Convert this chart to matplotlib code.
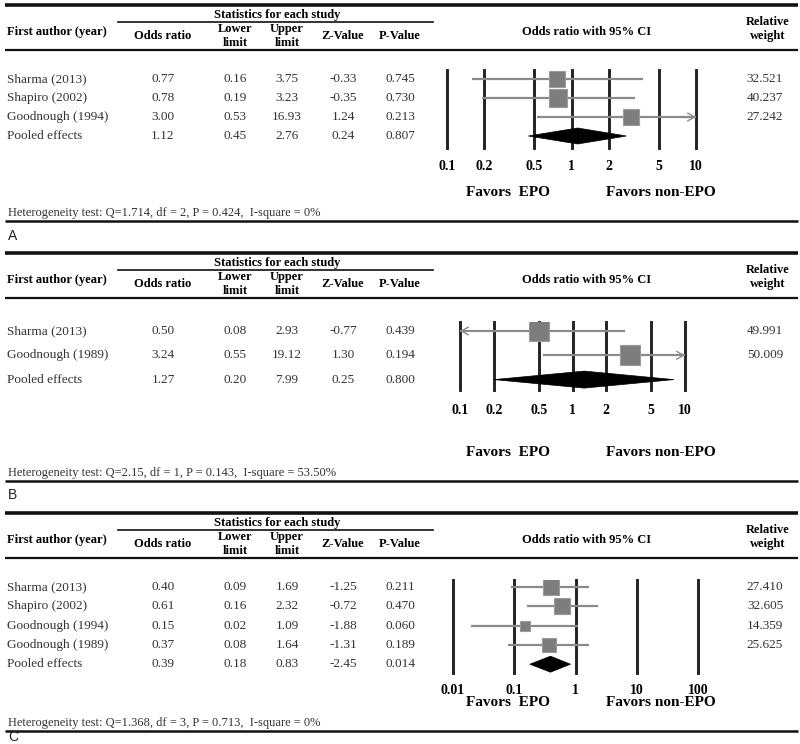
import matplotlib
matplotlib.use("Agg")
import matplotlib.pyplot as plt
from matplotlib.patches import Polygon
from matplotlib.ticker import NullLocator, NullFormatter
import numpy as np

# ------------------------------------------------------------------ data
A_authors = ["Sharma (2013)", "Shapiro (2002)", "Goodnough (1994)", "Pooled effects"]
A_or = [0.77, 0.78, 3.00, 1.12]
A_lo = [0.16, 0.19, 0.53, 0.45]
A_hi = [3.75, 3.23, 16.93, 2.76]
A_z = [-0.33, -0.35, 1.24, 0.24]
A_p = [0.745, 0.730, 0.213, 0.807]
A_w = [32.521, 40.237, 27.242]
A_het = "Heterogeneity test: Q=1.714, df = 2, P = 0.424,  I-square = 0%"

B_authors = ["Sharma (2013)", "Goodnough (1989)", "Pooled effects"]
B_or = [0.50, 3.24, 1.27]
B_lo = [0.08, 0.55, 0.20]
B_hi = [2.93, 19.12, 7.99]
B_z = [-0.77, 1.30, 0.25]
B_p = [0.439, 0.194, 0.800]
B_w = [49.991, 50.009]
B_het = "Heterogeneity test: Q=2.15, df = 1, P = 0.143,  I-square = 53.50%"

C_authors = ["Sharma (2013)", "Shapiro (2002)", "Goodnough (1994)",
             "Goodnough (1989)", "Pooled effects"]
C_or = [0.40, 0.61, 0.15, 0.37, 0.39]
C_lo = [0.09, 0.16, 0.02, 0.08, 0.18]
C_hi = [1.69, 2.32, 1.09, 1.64, 0.83]
C_z = [-1.25, -0.72, -1.88, -1.31, -2.45]
C_p = [0.211, 0.470, 0.060, 0.189, 0.014]
C_w = [27.410, 32.605, 14.359, 25.625]
C_het = "Heterogeneity test: Q=1.368, df = 3, P = 0.713,  I-square = 0%"

AB_ticks = [0.1, 0.2, 0.5, 1, 2, 5, 10]
AB_ticklabels = ["0.1", "0.2", "0.5", "1", "2", "5", "10"]
C_ticks = [0.01, 0.1, 1, 10, 100]
C_ticklabels = ["0.01", "0.1", "1", "10", "100"]

# ------------------------------------------------------------------ layout
W, H, DPI = 800, 744, 100
PT = DPI / 72.0
SERIF = ["Liberation Serif", "DejaVu Serif"]
SANS = ["Liberation Sans", "DejaVu Sans"]
LINE = "#111111"
TXT = "#333333"
CI_C = "#8a8a8a"
SQ_C = "#7d7d7d"

fig = plt.figure(figsize=(W / DPI, H / DPI), dpi=DPI)
ov = fig.add_axes([0, 0, 1, 1])
ov.set_xlim(0, W)
ov.set_ylim(H, 0)
ov.axis("off")

COL_X = [163, 235, 287, 343, 400]


def hline(y, x0=5, x1=798, lw=1.5):
    ov.plot([x0, x1], [y, y], color=LINE, lw=lw, solid_capstyle="butt")


def draw_panel(top, authors, ors, los, his, zs, ps, weights, het, letter,
               ticks, ticklabels, lay):
    # header
    hline(top, lw=2.6)
    ov.text(277, top + 10, "Statistics for each study", ha="center", va="center",
            fontsize=9, fontweight="bold", family=SERIF)
    ov.plot([118, 433], [top + 17] * 2, color=LINE, lw=1.2)
    ov.text(7, top + 27, "First author (year)", ha="left", va="center",
            fontsize=9, fontweight="bold", family=SERIF)
    heads = ["Odds ratio", "Lower\nlimit", "Upper\nlimit", "Z-Value", "P-Value"]
    for x, h in zip(COL_X, heads):
        ov.text(x, top + 31, h, ha="center", va="center", fontsize=9,
                fontweight="bold", family=SERIF, linespacing=1.25)
    ov.text(587, top + 27, "Odds ratio with 95% CI", ha="center", va="center",
            fontsize=9, fontweight="bold", family=SERIF)
    ov.text(768, top + 24, "Relative\nweight", ha="center", va="center",
            fontsize=9, fontweight="bold", family=SERIF, linespacing=1.3)
    hline(top + 45, lw=1.6)

    # table rows
    n = len(authors)
    for i in range(n):
        y = lay["row0"] + i * lay["dy"]
        ov.text(7, y, authors[i], ha="left", va="center", fontsize=9.5,
                family=SERIF, color=TXT)
        vals = [f"{ors[i]:.2f}", f"{los[i]:.2f}", f"{his[i]:.2f}",
                f"{zs[i]:.2f}", f"{ps[i]:.3f}"]
        for x, v in zip(COL_X, vals):
            ov.text(x, y, v, ha="center", va="center", fontsize=9.5,
                    family=SERIF, color=TXT)
        if i < len(weights):
            ov.text(765, y, f"{weights[i]:.3f}", ha="center", va="center",
                    fontsize=9.5, family=SERIF, color=TXT)

    # forest axes
    x0, x1 = lay["xpix"]
    vt, vb = lay["vtop"], lay["vbot"]
    ax = fig.add_axes([x0 / W, 1 - vb / H, (x1 - x0) / W, (vb - vt) / H])
    ax.set_facecolor("none")
    ax.set_xscale("log")
    xlo, xhi = ticks[0], ticks[-1]
    ax.set_xlim(xlo, xhi)
    r_top = (vt - lay["row0"]) / lay["dy"]
    r_bot = (vb - lay["row0"]) / lay["dy"]
    ax.set_ylim(r_bot, r_top)
    for s in ax.spines.values():
        s.set_visible(False)
    ax.set_yticks([])
    ax.set_xticks(ticks, ticklabels)
    ax.xaxis.set_minor_locator(NullLocator())
    ax.xaxis.set_minor_formatter(NullFormatter())
    ax.tick_params(axis="x", length=0, pad=(lay["tick_y"] - vb - 6) / PT)
    for lab in ax.get_xticklabels():
        lab.set_fontfamily(SERIF)
        lab.set_fontweight("bold")
        lab.set_fontsize(10)
    for t in ticks:
        ax.axvline(t, color="#222222", lw=2.1, zorder=1, clip_on=False)

    for i in range(n - 1):
        lo_c = max(los[i], xlo)
        hi_c = min(his[i], xhi)
        ax.plot([lo_c, hi_c], [i, i], color=CI_C, lw=1.6, zorder=3,
                solid_capstyle="butt", clip_on=False)
        ap = dict(arrowstyle="->,head_length=0.5,head_width=0.28", color=CI_C,
                  lw=1.0, shrinkA=0, shrinkB=0)
        if los[i] < xlo:
            ax.annotate("", xy=(xlo, i), xytext=(xlo * 1.4, i), arrowprops=ap,
                        zorder=3, annotation_clip=False)
        if his[i] > xhi:
            ax.annotate("", xy=(xhi, i), xytext=(xhi / 1.4, i), arrowprops=ap,
                        zorder=3, annotation_clip=False)
        ax.plot(ors[i], i, marker="s", ms=2.09 * np.sqrt(weights[i]),
                color=SQ_C, mec="#9a9a9a", mew=0.8, zorder=4)

    r = n - 1
    h = lay["dh"] / lay["dy"]
    ax.add_patch(Polygon([(los[r], r), (ors[r], r - h), (his[r], r), (ors[r], r + h)],
                         closed=True, fc="black", ec="black", lw=0.5, zorder=5))

    # favors labels
    ov.text(508, lay["fav_y"], "Favors  EPO", ha="center", va="center",
            fontsize=11, fontweight="bold", family=SERIF)
    ov.text(661, lay["fav_y"], "Favors non-EPO", ha="center", va="center",
            fontsize=11, fontweight="bold", family=SERIF)

    # heterogeneity + separator + letter
    ov.text(8, lay["het_y"], het, ha="left", va="center", fontsize=9,
            family=SERIF, color=TXT)
    hline(lay["sep_y"], lw=1.8)
    ov.text(8, lay["let_y"], letter, ha="left", va="center", fontsize=10,
            family=SANS, color="#222222")


draw_panel(5, A_authors, A_or, A_lo, A_hi, A_z, A_p, A_w, A_het, "A",
           AB_ticks, AB_ticklabels,
           dict(row0=79, dy=19, vtop=70, vbot=148, tick_y=166, fav_y=193,
                het_y=213, sep_y=221, let_y=236, xpix=(447, 696), dh=8))
draw_panel(253, B_authors, B_or, B_lo, B_hi, B_z, B_p, B_w, B_het, "B",
           AB_ticks, AB_ticklabels,
           dict(row0=331, dy=24.3, vtop=322, vbot=390, tick_y=410, fav_y=452,
                het_y=473, sep_y=481, let_y=495, xpix=(460, 685), dh=8.5))
draw_panel(513, C_authors, C_or, C_lo, C_hi, C_z, C_p, C_w, C_het, "C",
           C_ticks, C_ticklabels,
           dict(row0=587, dy=19.3, vtop=580, vbot=673, tick_y=690, fav_y=703,
                het_y=723, sep_y=731, let_y=737, xpix=(453, 698), dh=8))

fig.savefig("out.png", dpi=DPI)
